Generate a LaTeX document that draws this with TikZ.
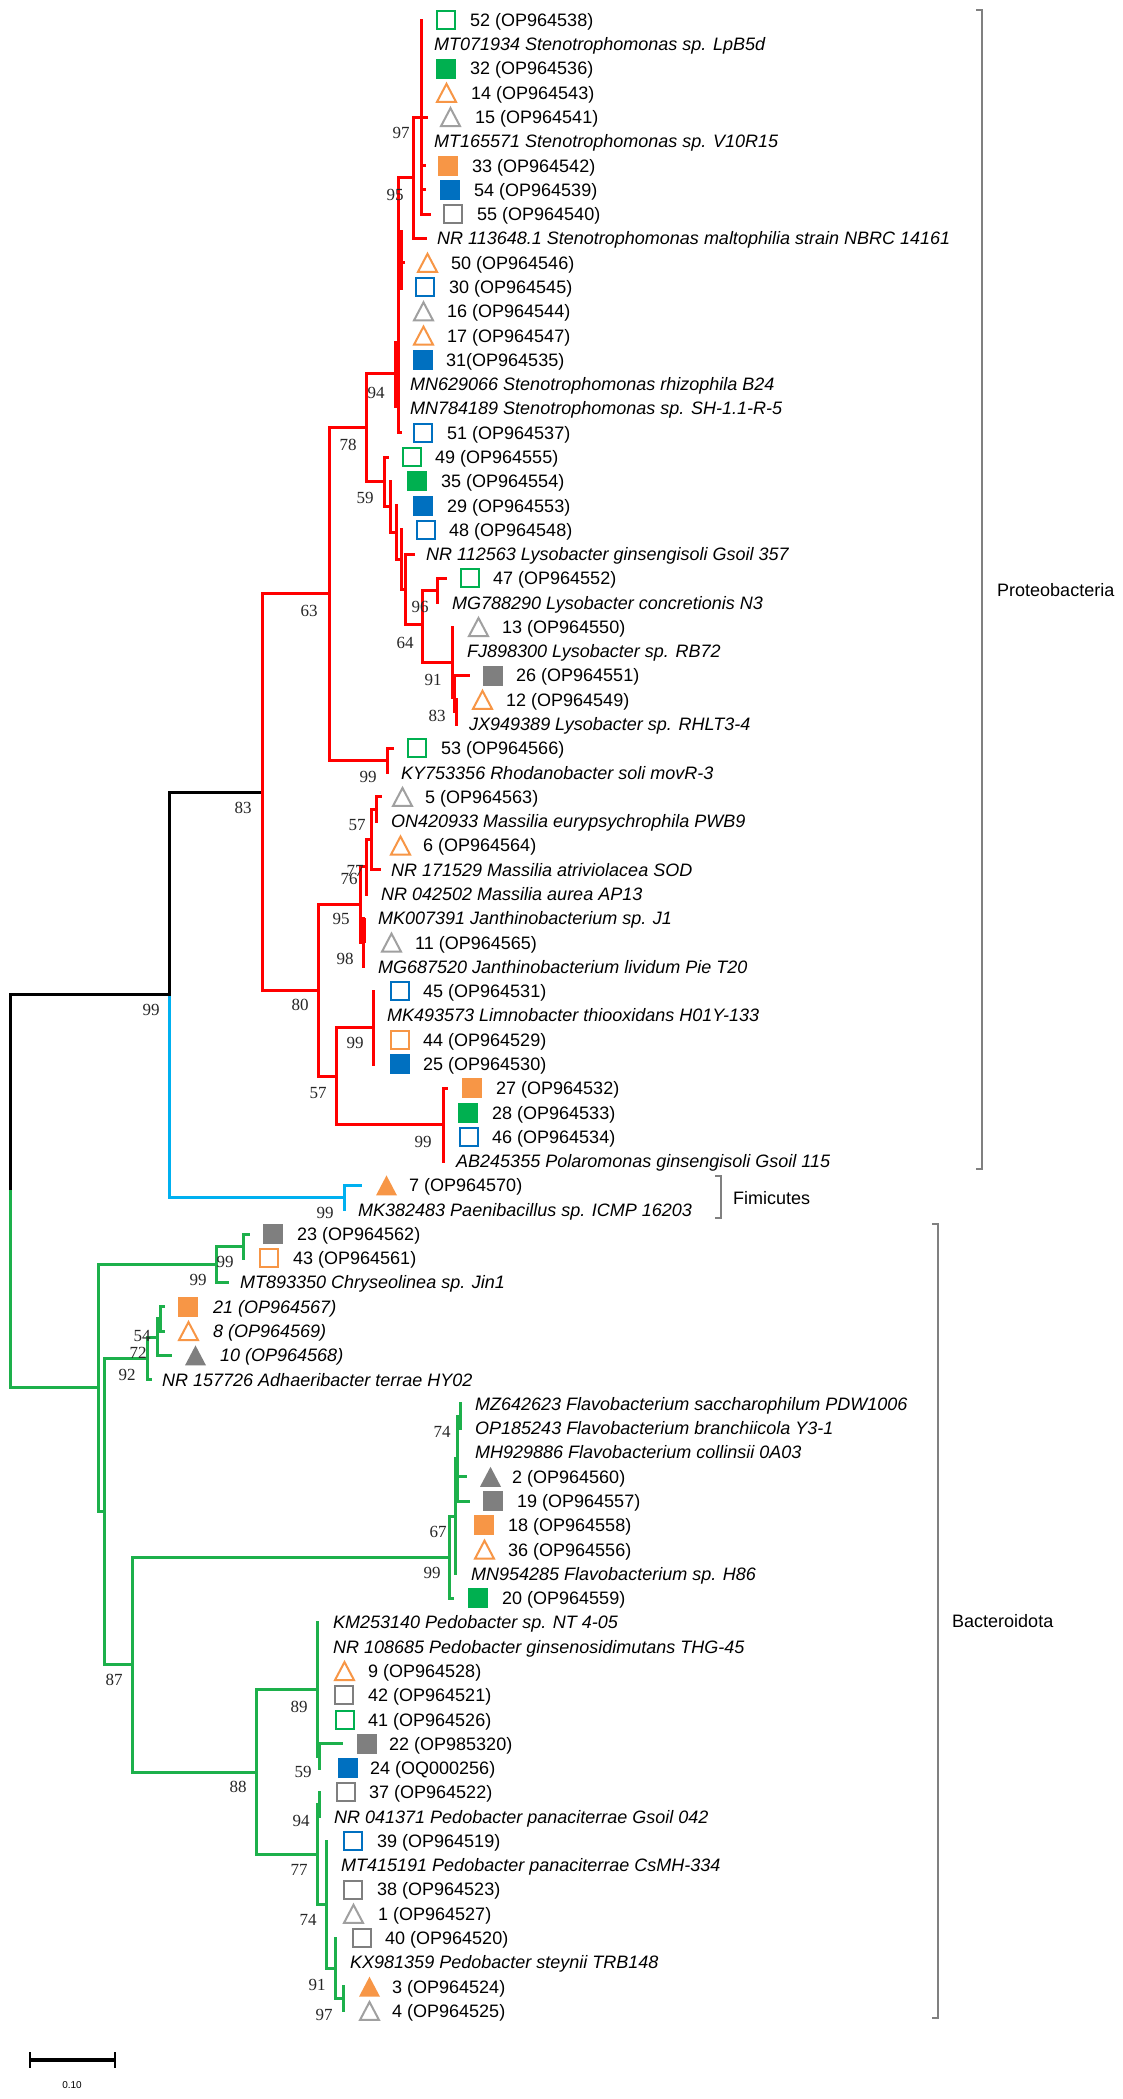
\documentclass[tikz,border=0pt]{standalone}
\usepackage{fontspec}
\setmainfont{Liberation Sans}
\newfontfamily\bsfont{Liberation Serif}
\definecolor{rd}{HTML}{FF0000}
\definecolor{bl}{HTML}{00B0F0}
\definecolor{gn}{HTML}{1DB04B}
\definecolor{sgn}{HTML}{00B050}
\definecolor{sor}{HTML}{F79646}
\definecolor{sbl}{HTML}{0070C0}
\definecolor{sgy}{HTML}{7F7F7F}
\definecolor{sgt}{HTML}{A0A0A0}
\definecolor{brk}{HTML}{808080}
\newcommand\Y[1]{(20+24.28*(#1))}
\tikzset{
  br/.style={line width=3pt,line cap=rect},
  leaf/.style={anchor=base west,inner sep=0pt,font=\fontsize{18}{20}\selectfont},
  bs/.style={inner sep=0pt,font=\bsfont\fontsize{17}{18}\selectfont,text=black!85},
  clade/.style={anchor=west,inner sep=0pt,font=\fontsize{18}{20}\selectfont},
  brack/.style={draw=brk,line width=2pt},
}
% node: colour, parent x, x, join row, top row, bottom row
\newcommand\Nd[6]{\draw[br,#1] ({#2},{\Y{#4}}) -- ({#3},{\Y{#4}}) ({#3},{\Y{#5}}) -- ({#3},{\Y{#6}});}
% tick: colour, x1, x2, row
\newcommand\Tk[4]{\draw[br,#1] ({#2},{\Y{#4}}) -- ({#3},{\Y{#4}});}
% symbols: colour, left x, row
\newcommand\OS[3]{\draw[#1,line width=2pt] ({#2+1},{\Y{#3}-9}) rectangle ({#2+19},{\Y{#3}+9});}
\newcommand\FS[3]{\fill[#1] ({#2},{\Y{#3}-10}) rectangle ({#2+20},{\Y{#3}+10});}
\newcommand\OT[3]{\draw[#1,line width=2pt,line join=miter] ({#2+1},{\Y{#3}+9}) -- ({#2+20},{\Y{#3}+9}) -- ({#2+10.5},{\Y{#3}-9}) -- cycle;}
\newcommand\FT[3]{\fill[#1] ({#2},{\Y{#3}+10}) -- ({#2+21},{\Y{#3}+10}) -- ({#2+10.5},{\Y{#3}-10}) -- cycle;}
% text: x, row, text
\newcommand\T[3]{\node[leaf] (L#2) at ({#1},{\Y{#2}+6.4}) {#3};}
\newcommand\TI[3]{\node[leaf,font=\fontsize{18}{20}\selectfont\itshape] (L#2) at ({#1},{\Y{#2}+6.4}) {#3};}
% bootstrap: name, x, y, text
\newcommand\B[4]{\node[bs] (#1) at (#2,#3) {#4};}
\begin{document}
\begin{tikzpicture}[x=1pt,y=-1pt]
\useasboundingbox (0,0) rectangle (1122,2099);
\fill[white] (0,0) rectangle (1122,2099);

%% ---------------- Proteobacteria (red) ----------------
\Nd{rd}{413}{421}{4}{0}{8}
\Tk{rd}{421}{426}{4}\Tk{rd}{421}{424}{6}\Tk{rd}{421}{424}{7}\Tk{rd}{421}{429}{8}
\Nd{rd}{398}{413}{6.5}{4}{9}
\Tk{rd}{413}{425}{9}
\Nd{rd}{366}{398}{14.54}{6.5}{17}
\draw[rd,line width=6pt] (399.5,{\Y{8.65}}) -- (399.5,{\Y{11.1}});
\draw[rd,line width=6pt] (397,{\Y{13.2}}) -- (397,{\Y{16}});
\Tk{rd}{398}{403}{10}\Tk{rd}{398}{400}{17}
\Nd{rd}{329}{366}{16.77}{14.54}{19}
\Nd{rd}{366}{384}{19}{18}{20.05}
\Tk{rd}{384}{387}{18}
\Nd{rd}{384}{390}{20.05}{19}{21.1}
\Nd{rd}{390}{396}{21.1}{20}{22.2}
\Nd{rd}{396}{401}{22.2}{21}{23.45}
\Nd{rd}{401}{405}{23.45}{22}{24.9}
\Tk{rd}{405}{413}{22}
\Nd{rd}{405}{422}{24.9}{23.5}{26.45}
\Nd{rd}{422}{437}{23.5}{23}{24}
\Tk{rd}{437}{445}{23}
\Nd{rd}{422}{452}{26.45}{25}{27.9}
\Nd{rd}{452}{454}{27.7}{27}{28.5}
\Tk{rd}{454}{468}{27}
\Nd{rd}{454}{456}{28.5}{28}{29}
\Nd{rd}{262}{329}{23.63}{16.77}{30.5}
\Nd{rd}{329}{387}{30.5}{30}{31}
\Tk{rd}{387}{392}{30}
\Nd{rd}{371}{376}{32.5}{32}{33}
\Tk{rd}{376}{380}{32}
\Nd{rd}{366}{371}{33.75}{32.5}{35}
\Tk{rd}{371}{379}{35}
\Nd{rd}{360}{366}{34.87}{33.75}{36}
\Nd{rd}{360}{363}{38}{37}{39}
\draw[rd,line width=6pt] (363,{\Y{37}}) -- (363,{\Y{38}});
\Nd{rd}{318}{360}{36.44}{34.87}{38}
\Nd{rd}{336}{373}{41.5}{40}{43}
\Nd{rd}{336}{443}{45.5}{44}{47}
\Tk{rd}{443}{446}{44}
\Nd{rd}{318}{336}{43.5}{41.5}{45.5}
\Nd{rd}{262}{318}{39.97}{36.44}{43.5}
\draw[br,black] (169,{\Y{31.8}}) -- (262,{\Y{31.8}});
\draw[br,rd] (262,{\Y{23.63}}) -- (262,{\Y{39.97}});

%% ---------------- Firmicutes (blue) + root ----------------
\draw[br,bl] (169,{\Y{40.15}}) -- (169,{\Y{48.5}}) -- (344,{\Y{48.5}});
\draw[br,bl] (344,{\Y{48}}) -- (344,{\Y{49}});
\Tk{bl}{344}{360}{48}
\draw[br,black] (169,{\Y{31.8}}) -- (169,{\Y{40.15}});
\draw[br,black] (10,{\Y{40.15}}) -- (169,{\Y{40.15}});
\draw[br,black] (10,{\Y{40.15}}) -- (10,{\Y{48.25}});
\draw[br,gn] (10,{\Y{48.25}}) -- (10,{\Y{56.34}}) -- (98,{\Y{56.34}});

%% ---------------- Bacteroidota (green) ----------------
\Nd{gn}{216}{243}{50.5}{50}{51}
\Tk{gn}{243}{248}{50}
\Nd{gn}{98}{216}{51.25}{50.5}{52}
\Tk{gn}{216}{227}{52}
\Nd{gn}{157}{160}{53.5}{53}{54}
\Tk{gn}{160}{163}{53}\Tk{gn}{160}{163}{54}
\Nd{gn}{147}{157}{54.25}{53.5}{55}
\Tk{gn}{157}{170}{55}
\Nd{gn}{104}{147}{55.125}{54.25}{56}
\Tk{gn}{147}{150}{56}
\Nd{gn}{98}{104}{61.43}{55.125}{67.73}
\Nd{gn}{10}{98}{56.34}{51.25}{61.43}
% Flavobacterium
\Nd{gn}{457}{460}{57.5}{57}{58}
\Nd{gn}{455}{457}{59.25}{57.5}{61}
\Tk{gn}{457}{465}{60}\Tk{gn}{457}{468}{61}
\Nd{gn}{449}{455}{61.625}{59.25}{64}
\Nd{gn}{132}{449}{63.31}{61.625}{65}
\Tk{gn}{449}{452}{65}
% 87 / 88
\Nd{gn}{104}{132}{67.73}{63.31}{72.16}
\Nd{gn}{132}{256}{72.16}{68.75}{75.56}
% Pedobacter
\Nd{gn}{256}{317}{68.75}{66}{71.5}
\Nd{gn}{317}{319}{71.5}{71}{72}
\Tk{gn}{319}{341}{71}
\Nd{gn}{256}{317}{75.56}{73.5}{77.625}
\Nd{gn}{317}{319}{73.5}{73}{74}
\Nd{gn}{317}{326}{77.625}{75}{80.25}
\Nd{gn}{326}{335}{80.25}{79}{81.5}
\Nd{gn}{335}{343}{81.5}{81}{82}

%% ---------------- leaves ----------------
\OS{sgn}{436}{0}\T{470}{0}{52 (OP964538)}
\TI{434}{1}{MT071934 Stenotrophomonas sp. LpB5d}
\FS{sgn}{436}{2}\T{470}{2}{32 (OP964536)}
\OT{sor}{436}{3}\T{471}{3}{14 (OP964543)}
\OT{sgt}{440}{4}\T{475}{4}{15 (OP964541)}
\TI{434}{5}{MT165571 Stenotrophomonas sp. V10R15}
\FS{sor}{438}{6}\T{472}{6}{33 (OP964542)}
\FS{sbl}{440}{7}\T{474}{7}{54 (OP964539)}
\OS{sgy}{443}{8}\T{477}{8}{55 (OP964540)}
\TI{437}{9}{NR 113648.1 Stenotrophomonas maltophilia strain NBRC 14161}
\OT{sor}{417}{10}\T{451}{10}{50 (OP964546)}
\OS{sbl}{415}{11}\T{449}{11}{30 (OP964545)}
\OT{sgt}{413}{12}\T{447}{12}{16 (OP964544)}
\OT{sor}{413}{13}\T{447}{13}{17 (OP964547)}
\FS{sbl}{413}{14}\T{446}{14}{31(OP964535)}
\TI{410}{15}{MN629066 Stenotrophomonas rhizophila B24}
\TI{410}{16}{MN784189 Stenotrophomonas sp. SH-1.1-R-5}
\OS{sbl}{413}{17}\T{447}{17}{51 (OP964537)}
\OS{sgn}{402}{18}\T{435}{18}{49 (OP964555)}
\FS{sgn}{407}{19}\T{441}{19}{35 (OP964554)}
\FS{sbl}{413}{20}\T{447}{20}{29 (OP964553)}
\OS{sbl}{416}{21}\T{449}{21}{48 (OP964548)}
\TI{426}{22}{NR 112563 Lysobacter ginsengisoli Gsoil 357}
\OS{sgn}{460}{23}\T{493}{23}{47 (OP964552)}
\TI{452}{24}{MG788290 Lysobacter concretionis N3}
\OT{sgt}{468}{25}\T{502}{25}{13 (OP964550)}
\TI{467}{26}{FJ898300 Lysobacter sp. RB72}
\FS{sgy}{483}{27}\T{516}{27}{26 (OP964551)}
\OT{sor}{472}{28}\T{506}{28}{12 (OP964549)}
\TI{469}{29}{JX949389 Lysobacter sp. RHLT3-4}
\OS{sgn}{407}{30}\T{441}{30}{53 (OP964566)}
\TI{401}{31}{KY753356 Rhodanobacter soli movR-3}
\OT{sgt}{392}{32}\T{425}{32}{5 (OP964563)}
\TI{391}{33}{ON420933 Massilia eurypsychrophila PWB9}
\OT{sor}{390}{34}\T{423}{34}{6 (OP964564)}
\TI{391}{35}{NR 171529 Massilia atriviolacea SOD}
\TI{381}{36}{NR 042502 Massilia aurea AP13}
\TI{378}{37}{MK007391 Janthinobacterium sp. J1}
\OT{sgt}{381}{38}\T{415}{38}{11 (OP964565)}
\TI{378}{39}{MG687520 Janthinobacterium lividum Pie T20}
\OS{sbl}{390}{40}\T{423}{40}{45 (OP964531)}
\TI{387}{41}{MK493573 Limnobacter thiooxidans H01Y-133}
\OS{sor}{390}{42}\T{423}{42}{44 (OP964529)}
\FS{sbl}{390}{43}\T{423}{43}{25 (OP964530)}
\FS{sor}{462}{44}\T{496}{44}{27 (OP964532)}
\FS{sgn}{458}{45}\T{492}{45}{28 (OP964533)}
\OS{sbl}{459}{46}\T{492}{46}{46 (OP964534)}
\TI{456}{47}{AB245355 Polaromonas ginsengisoli Gsoil 115}
\FT{sor}{376}{48}\T{409}{48}{7 (OP964570)}
\TI{358}{49}{MK382483 Paenibacillus sp. ICMP 16203}
\FS{sgy}{263}{50}\T{297}{50}{23 (OP964562)}
\OS{sor}{259}{51}\T{293}{51}{43 (OP964561)}
\TI{240}{52}{MT893350 Chryseolinea sp. Jin1}
\FS{sor}{178}{53}\TI{213}{53}{21 (OP964567)}
\OT{sor}{178}{54}\TI{213}{54}{8 (OP964569)}
\FT{sgy}{185}{55}\TI{220}{55}{10 (OP964568)}
\TI{162}{56}{NR 157726 Adhaeribacter terrae HY02}
\TI{475}{57}{MZ642623 Flavobacterium saccharophilum PDW1006}
\TI{475}{58}{OP185243 Flavobacterium branchiicola Y3-1}
\TI{475}{59}{MH929886 Flavobacterium collinsii 0A03}
\FT{sgy}{480}{60}\T{512}{60}{2 (OP964560)}
\FS{sgy}{483}{61}\T{517}{61}{19 (OP964557)}
\FS{sor}{474}{62}\T{508}{62}{18 (OP964558)}
\OT{sor}{474}{63}\T{508}{63}{36 (OP964556)}
\TI{471}{64}{MN954285 Flavobacterium sp. H86}
\FS{sgn}{468}{65}\T{502}{65}{20 (OP964559)}
\TI{333}{66}{KM253140 Pedobacter sp. NT 4-05}
\TI{333}{67}{NR 108685 Pedobacter ginsenosidimutans THG-45}
\OT{sor}{334}{68}\T{368}{68}{9 (OP964528)}
\OS{sgy}{334}{69}\T{368}{69}{42 (OP964521)}
\OS{sgn}{335}{70}\T{368}{70}{41 (OP964526)}
\FS{sgy}{357}{71}\T{389}{71}{22 (OP985320)}
\FS{sbl}{338}{72}\T{370}{72}{24 (OQ000256)}
\OS{sgy}{336}{73}\T{369}{73}{37 (OP964522)}
\TI{334}{74}{NR 041371 Pedobacter panaciterrae Gsoil 042}
\OS{sbl}{343}{75}\T{377}{75}{39 (OP964519)}
\TI{341}{76}{MT415191 Pedobacter panaciterrae CsMH-334}
\OS{sgy}{343}{77}\T{377}{77}{38 (OP964523)}
\OT{sgt}{343}{78}\T{378}{78}{1 (OP964527)}
\OS{sgy}{352}{79}\T{385}{79}{40 (OP964520)}
\TI{350}{80}{KX981359 Pedobacter steynii TRB148}
\FT{sor}{359}{81}\T{392}{81}{3 (OP964524)}
\OT{sgt}{359}{82}\T{392}{82}{4 (OP964525)}

%% ---------------- bootstrap values ----------------
\B{b1}{401}{133}{97}
\B{b2}{395}{195}{95}
\B{b3}{376}{393}{94}
\B{b4}{348}{445}{78}
\B{b5}{365}{498}{59}
\B{b6}{420}{607}{96}
\B{b7}{405}{643}{64}
\B{b8}{433}{680}{91}
\B{b9}{437}{716}{83}
\B{b10}{309}{611}{63}
\B{b11}{368}{777}{99}
\B{b12}{357}{825}{57}
\B{b13}{355}{871}{77}
\B{b14}{349}{879}{76}
\B{b15}{341}{919}{95}
\B{b16}{345}{959}{98}
\B{b17}{243}{808}{83}
\B{b18}{300}{1005}{80}
\B{b19}{151}{1010}{99}
\B{b20}{355}{1043}{99}
\B{b21}{318}{1093}{57}
\B{b22}{423}{1142}{99}
\B{b23}{325}{1213}{99}
\B{b24}{225}{1262}{99}
\B{b25}{198}{1280}{99}
\B{b26}{142}{1336}{54}
\B{b27}{138}{1353}{72}
\B{b28}{127}{1375}{92}
\B{b29}{442}{1432}{74}
\B{b30}{438}{1532}{67}
\B{b31}{432}{1573}{99}
\B{b32}{114}{1680}{87}
\B{b33}{238}{1787}{88}
\B{b34}{299}{1707}{89}
\B{b35}{303}{1772}{59}
\B{b36}{301}{1821}{94}
\B{b37}{299}{1870}{77}
\B{b38}{308}{1920}{74}
\B{b39}{317}{1985}{91}
\B{b40}{324}{2015}{97}

%% ---------------- clade brackets ----------------
\draw[brack] (976,10) -- (982,10) -- (982,1169) -- (976,1169);
\node[clade] (proteo) at (997,590) {Proteobacteria};
\draw[brack] (715,1176) -- (721,1176) -- (721,1218) -- (715,1218);
\node[clade] (firmi) at (733,1198) {Fimicutes};
\draw[brack] (932,1224) -- (938,1224) -- (938,2018) -- (932,2018);
\node[clade] (bacte) at (952,1621) {Bacteroidota};

%% ---------------- scale bar ----------------
\draw[line width=4pt] (30,2060) -- (115,2060);
\draw[line width=2pt] (30,2052) -- (30,2068) (115,2052) -- (115,2068);
\node[inner sep=0pt,font=\fontsize{10}{11}\selectfont] (scale) at (72,2085) {0.10};
\end{tikzpicture}
\end{document}
